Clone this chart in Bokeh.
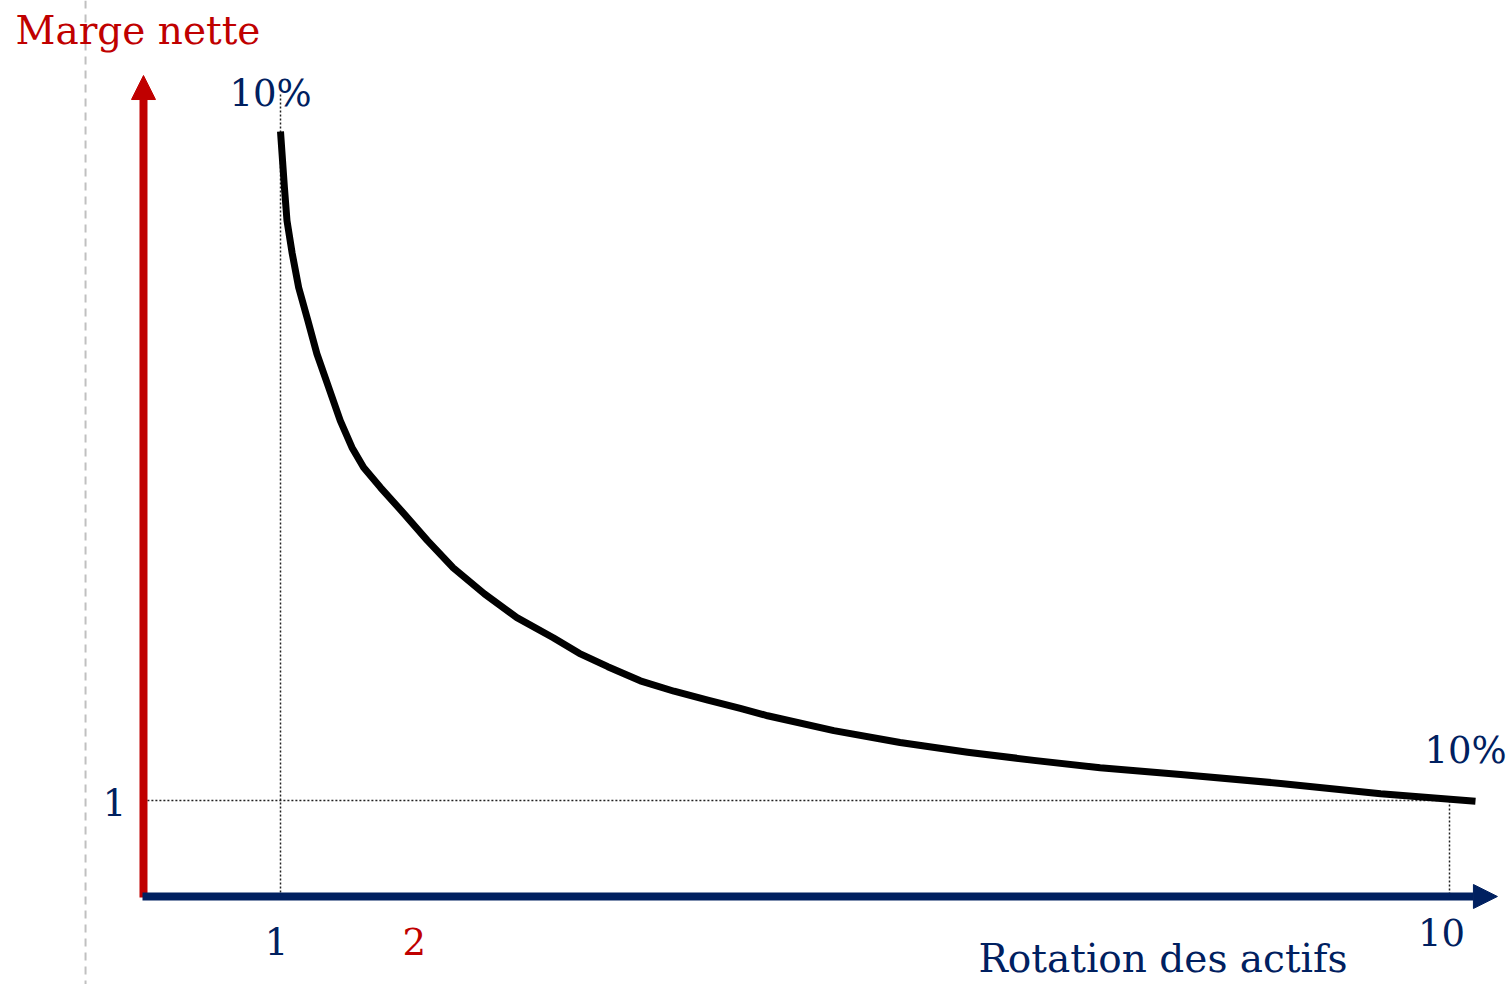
from bokeh.plotting import figure
from bokeh.models import Range1d, Arrow, NormalHead, Label, Span
from bokeh.embed import file_html
from bokeh.resources import INLINE

# ---- data ----
rotation = [1.00, 1.03, 1.05, 1.09, 1.14, 1.21, 1.28, 1.37, 1.46, 1.55, 1.64, 1.77,
            1.95, 2.13, 2.33, 2.57, 2.82, 3.10, 3.30, 3.52, 3.77, 4.03, 4.29, 4.54,
            4.75, 5.26, 5.77, 6.29, 6.80, 7.31, 7.93, 8.70, 9.47, 10.20]
marge = [10.00, 9.25, 8.80, 8.36, 7.90, 7.46, 7.01, 6.56, 6.11, 5.75, 5.48, 5.21,
         4.86, 4.50, 4.13, 3.78, 3.46, 3.19, 2.98, 2.80, 2.61, 2.47, 2.35, 2.24,
         2.14, 1.94, 1.78, 1.65, 1.54, 1.44, 1.35, 1.23, 1.09, 0.99]
x_tick_values = [1, 2, 10]
x_tick_labels = ["1", "2", "10"]
y_tick_values = [1]
y_tick_labels = ["1"]
point_labels = ["10%", "10%"]
x_title = "Rotation des actifs"
y_title = "Marge nette"

NAVY = "#002060"
RED = "#C00000"
FONT = "DejaVu Serif"

W, H = 1510, 984
p = figure(width=W, height=H, x_range=Range1d(-1.1557, 10.4696),
           y_range=Range1d(-1.4754, 11.7623), output_backend="svg",
           toolbar_location=None, x_axis_location=None, y_axis_location=None,
           min_border=0)
p.grid.visible = False
p.outline_line_color = None
p.background_fill_color = "white"

# axis anchor positions (layout)
ax_x = -0.0548
ax_y = -0.2915

# grey dashed page guide
p.add_layout(Span(location=-0.501, dimension="height", line_color="#c0c0c0",
                  line_width=2, line_dash="8 6"))

# dotted guides
x_first, x_last = x_tick_values[0], x_tick_values[-1]
y_ref = y_tick_values[0]
p.segment(x0=[x_first], y0=[ax_y], x1=[x_first], y1=[10.511],
          line_color="#222222", line_width=1.5, line_dash="2 2")
p.segment(x0=[ax_x + 0.03], y0=[y_ref], x1=[x_last], y1=[y_ref],
          line_color="#222222", line_width=1.5, line_dash="2 2")
p.segment(x0=[x_last], y0=[y_ref], x1=[x_last], y1=[ax_y],
          line_color="#222222", line_width=1.5, line_dash="2 2")

# y axis arrow (red)
p.add_layout(Arrow(end=NormalHead(size=24, fill_color=RED, line_color=RED, line_width=1),
                   x_start=ax_x, y_start=-0.305, x_end=ax_x, y_end=10.753,
                   line_color=RED, line_width=8))
# x axis arrow (navy)
p.add_layout(Arrow(end=NormalHead(size=24, fill_color=NAVY, line_color=NAVY, line_width=1),
                   x_start=-0.0625, y_start=ax_y, x_end=10.369, y_end=ax_y,
                   line_color=NAVY, line_width=8))

# curve
p.line(rotation, marge, line_color="black", line_width=7, line_join="round")

def lab(text, x, y, xo, yo, color, size, align="center"):
    p.add_layout(Label(x=x, y=y, x_offset=xo, y_offset=yo, text=text,
                       text_color=color, text_font=FONT, text_font_size=f"{size}px",
                       text_align=align, text_baseline="alphabetic"))

# titles
lab(y_title, ax_x, 10.753, -128, 45, RED, 39, "left")
lab(x_title, x_last, ax_y, -102, -62, NAVY, 39, "right")

# tick labels
x_tick_colors = [NAVY, RED, NAVY]
x_tick_dx = [-4, 4, -8]
x_tick_dy = [-45, -45, -36]
for v, t, c, dx, dy in zip(x_tick_values, x_tick_labels, x_tick_colors, x_tick_dx, x_tick_dy):
    lab(t, v, ax_y, dx, dy, c, 37)
for v, t in zip(y_tick_values, y_tick_labels):
    lab(t, ax_x, v, -29, -2, NAVY, 37)

# point labels
lab(point_labels[0], rotation[0], marge[0], -10, 38, NAVY, 37)
lab(point_labels[1], x_last, y_ref, 16, 50, NAVY, 37)

open("out.html", "w").write(file_html(p, INLINE))
